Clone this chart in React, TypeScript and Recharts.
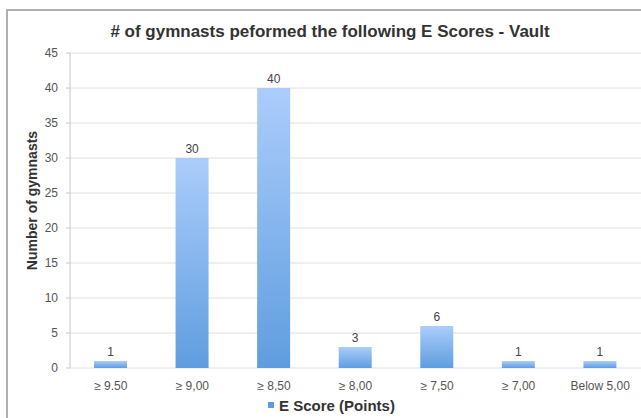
import React from "react";
import { BarChart, Bar, XAxis, YAxis, CartesianGrid, Legend, LabelList } from "recharts";

const categories = ["≥ 9.50", "≥ 9,00", "≥ 8,50", "≥ 8,00", "≥ 7,50", "≥ 7,00", "Below 5,00"];
const counts = [1, 30, 40, 3, 6, 1, 1];
const yTicks = [0, 5, 10, 15, 20, 25, 30, 35, 40, 45];
const boundaryTicks = [0, 1, 2, 3, 4, 5, 6, 7];
const seriesName = "E Score (Points)";
const title = "# of gymnasts peformed the following E Scores - Vault";
const yTitle = "Number of gymnasts";

const data = categories.map((c, i) => ({ category: c, value: counts[i], idx: i + 0.5 }));

const font = "'Liberation Sans', Arial, Helvetica, sans-serif";

const LegendContent = () => (
  <div style={{ display: "flex", justifyContent: "center", alignItems: "center", fontFamily: font, fontSize: 15, fontWeight: "bold", color: "#333", paddingLeft: 22, height: 22 }}>
    <span style={{ display: "inline-block", width: 6, height: 6, background: "#5b9be0", marginRight: 5 }} />
    {seriesName}
  </div>
);

const YTitle = (props: any) => {
  const vb = props.viewBox || {};
  const cy = vb.y + vb.height / 2 - 10;
  return (
    <text x={32} y={cy} transform={`rotate(-90, 32, ${cy})`} textAnchor="middle" dominantBaseline="central" fontFamily={font} fontSize={14} fontWeight="bold" fill="#333">
      {yTitle}
    </text>
  );
};

export default function App() {
  return (
    <div style={{ position: "absolute", left: 0, top: 0, width: 641, height: 418, background: "#fff", overflow: "hidden" }}>
      <div style={{ position: "absolute", left: 6, top: 9, width: 700, height: 440, border: "2px solid #b0b0b0", boxSizing: "border-box" }} />
      <div style={{ position: "absolute", left: 0, top: 22, width: 660, textAlign: "center", fontFamily: font, fontSize: 17, fontWeight: "bold", color: "#333", lineHeight: "20px" }}>
        {title}
      </div>
      <BarChart width={641} height={418} data={data} margin={{ top: 53, right: 0, bottom: 2, left: 0 }}>
        <defs>
          <linearGradient id="barGrad" x1="0" y1="0" x2="0" y2="1">
            <stop offset="0%" stopColor="#abcdfb" />
            <stop offset="100%" stopColor="#5f9ddf" />
          </linearGradient>
        </defs>
        <CartesianGrid vertical={false} stroke="#e0e0e0" />
        <XAxis
          xAxisId="bounds"
          type="number"
          dataKey="idx"
          domain={[0, 7]}
          ticks={boundaryTicks}
          height={0}
          tick={false}
          tickLine={{ stroke: "#c8c8c8" }}
          tickSize={3}
          axisLine={{ stroke: "#c8c8c8" }}
        />
        <XAxis
          xAxisId="cat"
          dataKey="category"
          height={26}
          tick={{ fontSize: 12, fill: "#555", fontFamily: font }}
          tickLine={false}
          axisLine={false}
          interval={0}
          tickMargin={7}
        />
        <YAxis
          width={70}
          domain={[0, 45]}
          ticks={yTicks}
          tick={{ fontSize: 12, fill: "#555", fontFamily: font }}
          axisLine={{ stroke: "#c8c8c8" }}
          tickLine={{ stroke: "#c8c8c8" }}
          tickSize={4}
          tickMargin={8}
          label={<YTitle />}
        />
        <Legend verticalAlign="bottom" height={22} content={<LegendContent />} />
        <Bar xAxisId="cat" dataKey="value" name={seriesName} fill="url(#barGrad)" barSize={33} isAnimationActive={false}>
          <LabelList dataKey="value" position="top" offset={5} style={{ fontSize: 12, fill: "#444", fontFamily: font }} />
        </Bar>
      </BarChart>
    </div>
  );
}
